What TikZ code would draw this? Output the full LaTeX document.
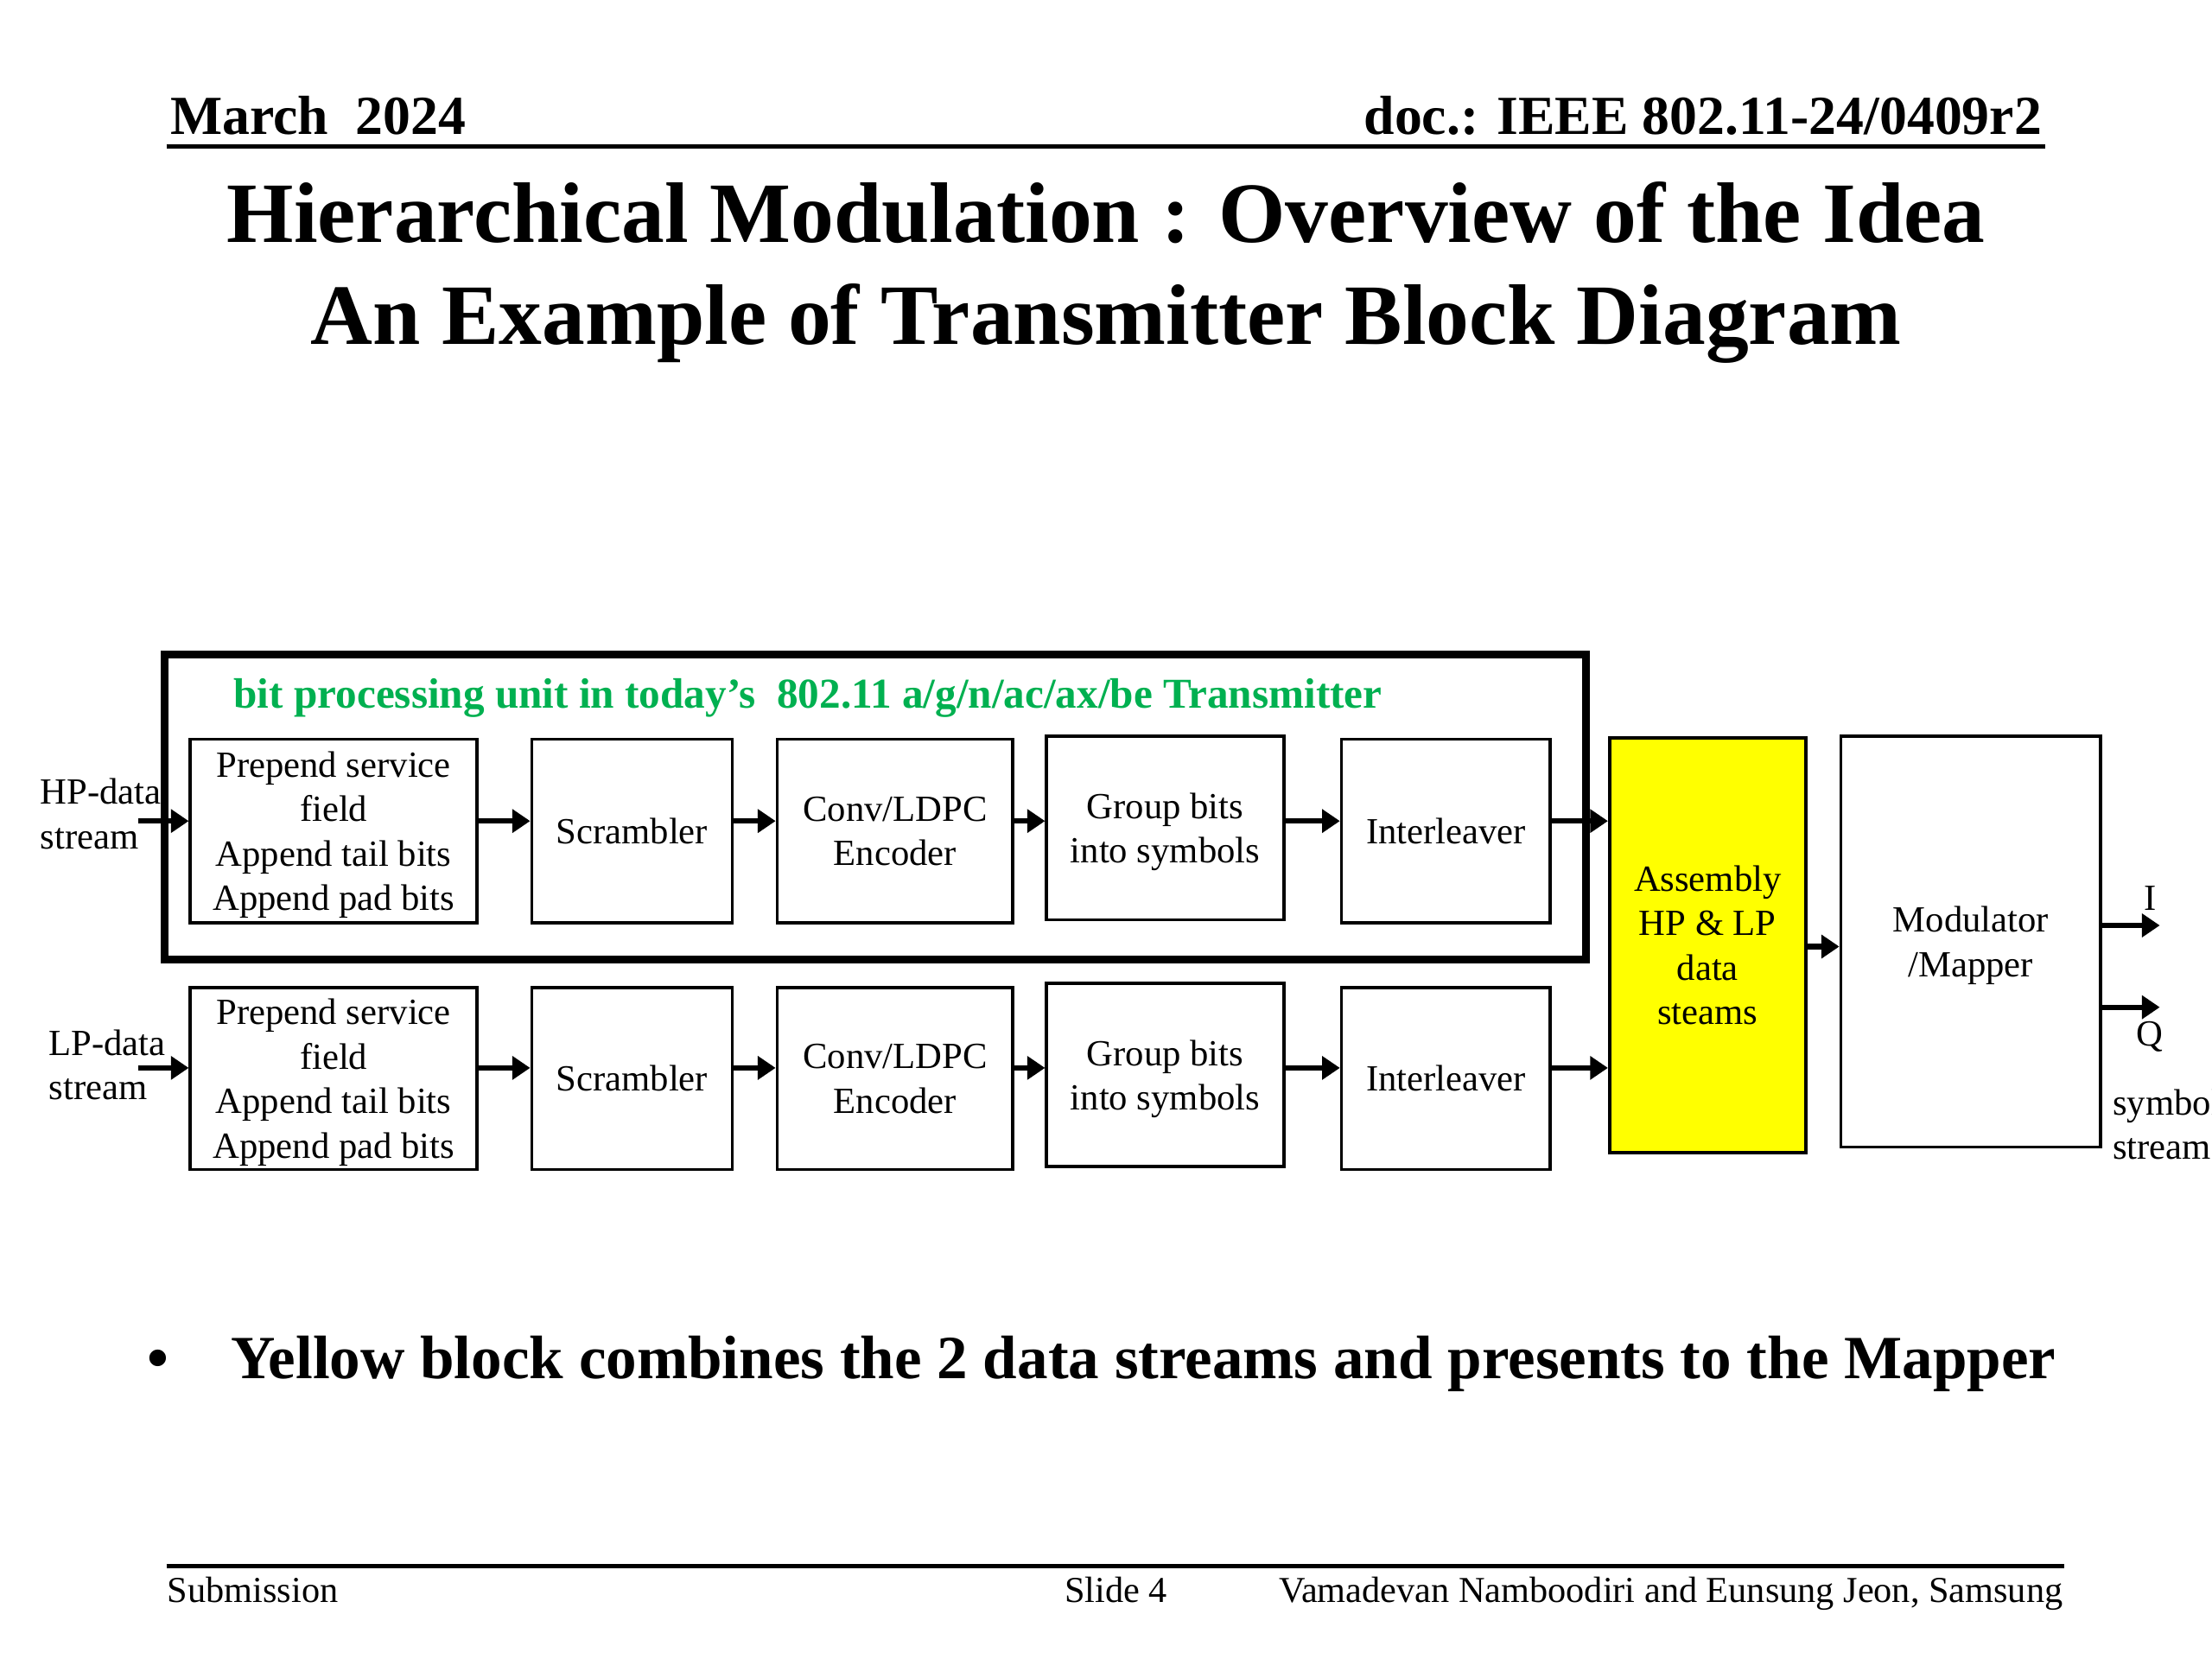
\documentclass[tikz,border=0pt]{standalone}
\usepackage{fontspec}
\setmainfont{Liberation Serif}
\usetikzlibrary{arrows.meta}
\definecolor{pgreen}{RGB}{0,176,80}
\definecolor{pyellow}{RGB}{255,255,0}
\tikzset{
  blk/.style={draw, line width=0.65pt, align=center, inner sep=1pt, text depth=0pt, font=\fontsize{7.43}{8.96}\selectfont},
  arr/.style={line width=1.1pt, -{Triangle[length=3.6pt,width=4.6pt]}},
  txt/.style={inner sep=0pt},
  lbl/.style={inner sep=0pt, align=left, font=\fontsize{7.43}{8.96}\selectfont},
  rulel/.style={line width=0.8pt},
}
\begin{document}
\begin{tikzpicture}[x=0.01cm,y=-0.01cm]
\useasboundingbox (0,0) rectangle (1568,1176);
% header
\node[txt, anchor=base west, font=\fontsize{11.1}{13}\selectfont\bfseries] (hdl) at (120,95) {March\ \ 2024};
\node[txt, anchor=base east, font=\fontsize{11.1}{13}\selectfont\bfseries] (hdr) at (1448,95) {doc.: IEEE 802.11-24/0409r2};
\draw[rulel] (118,104) -- (1450,104);
% title
\node[txt, anchor=base, font=\fontsize{17.33}{20}\selectfont\bfseries] (t1) at (784,172) {Hierarchical Modulation : Overview of the Idea};
\node[txt, anchor=base, font=\fontsize{17.33}{20}\selectfont\bfseries] (t2) at (784,244) {An Example of Transmitter Block Diagram};
% frame
\node[draw, line width=1.5pt, minimum width=10.07cm, minimum height=2.16cm, inner sep=0pt] (frame) at (620.5,572) {};
\node[txt, anchor=base west, text=pgreen, font=\fontsize{8.57}{10}\selectfont\bfseries] (gt) at (165,502) {bit processing unit in today’s\ \ 802.11 a/g/n/ac/ax/be Transmitter};
% row 1
\node[blk, minimum width=2.03cm, minimum height=1.30cm] (prep1) at (236.5,589) {Prepend service\\field\\Append tail bits\\Append pad bits};
\node[blk, minimum width=1.42cm, minimum height=1.30cm] (scr1) at (448,589) {Scrambler};
\node[blk, minimum width=1.67cm, minimum height=1.30cm] (conv1) at (634.5,589) {Conv/LDPC\\Encoder};
\node[blk, minimum width=1.68cm, minimum height=1.30cm] (grp1) at (826,587) {Group bits\\into symbols};
\node[blk, minimum width=1.48cm, minimum height=1.30cm] (int1) at (1025,589) {Interleaver};
% row 2
\node[blk, minimum width=2.03cm, minimum height=1.29cm] (prep2) at (236.5,764.5) {Prepend service\\field\\Append tail bits\\Append pad bits};
\node[blk, minimum width=1.42cm, minimum height=1.29cm] (scr2) at (448,764.5) {Scrambler};
\node[blk, minimum width=1.67cm, minimum height=1.29cm] (conv2) at (634.5,764.5) {Conv/LDPC\\Encoder};
\node[blk, minimum width=1.68cm, minimum height=1.30cm] (grp2) at (826,762) {Group bits\\into symbols};
\node[blk, minimum width=1.48cm, minimum height=1.29cm] (int2) at (1025,764.5) {Interleaver};
% assembly and mapper
\node[blk, fill=pyellow, minimum width=1.39cm, minimum height=2.94cm] (yel) at (1210.5,670) {Assembly\\HP \& LP\\data\\steams};
\node[blk, minimum width=1.84cm, minimum height=2.91cm] (mod) at (1397,667.5) {Modulator\\/Mapper};
% input labels
\node[lbl, anchor=west] (hpl) at (28,577) {HP-data\\stream};
\node[lbl, anchor=west] (lpl) at (34,755) {LP-data\\stream};
% coordinates
\coordinate (r1) at (0,582);
\coordinate (r2) at (0,757);
\coordinate (hpin) at (98,582);
\coordinate (lpin) at (98,757);
\coordinate (ym) at (0,671);
\coordinate (iout) at (1531,656);
\coordinate (qout) at (1531,714);
% arrows row 1
\draw[arr] (hpin) -- (prep1.west |- r1);
\draw[arr] (prep1.east |- r1) -- (scr1.west |- r1);
\draw[arr] (scr1.east |- r1) -- (conv1.west |- r1);
\draw[arr] (conv1.east |- r1) -- (grp1.west |- r1);
\draw[arr] (grp1.east |- r1) -- (int1.west |- r1);
\draw[arr] (int1.east |- r1) -- (yel.west |- r1);
% arrows row 2
\draw[arr] (lpin) -- (prep2.west |- r2);
\draw[arr] (prep2.east |- r2) -- (scr2.west |- r2);
\draw[arr] (scr2.east |- r2) -- (conv2.west |- r2);
\draw[arr] (conv2.east |- r2) -- (grp2.west |- r2);
\draw[arr] (grp2.east |- r2) -- (int2.west |- r2);
\draw[arr] (int2.east |- r2) -- (yel.west |- r2);
% to mapper and outputs
\draw[arr] (yel.east |- ym) -- (mod.west |- ym);
\draw[arr] (mod.east |- iout) -- (iout);
\draw[arr] (mod.east |- qout) -- (qout);
\node[lbl] (il) at (1524,637) {I};
\node[lbl] (ql) at (1524,735) {Q};
\node[lbl, anchor=west] (sym) at (1497,797) {symbol\\stream};
% bullet
\node[txt, anchor=base west, font=\fontsize{12.38}{14}\selectfont\bfseries] (bul) at (104,977) {•};
\node[txt, anchor=base west, font=\fontsize{12.38}{14}\selectfont\bfseries] (btxt) at (163,977) {Yellow block combines the 2 data streams and presents to the Mapper};
% footer
\draw[rulel] (118,1110) -- (1463,1110);
\node[txt, anchor=base west, font=\fontsize{7.37}{9}\selectfont] (f1) at (118,1136) {Submission};
\node[txt, anchor=base west, font=\fontsize{7.37}{9}\selectfont] (f2) at (754,1136) {Slide 4};
\node[txt, anchor=base east, font=\fontsize{7.37}{9}\selectfont] (f3) at (1463,1136) {Vamadevan Namboodiri and Eunsung Jeon, Samsung};
\end{tikzpicture}
\end{document}
